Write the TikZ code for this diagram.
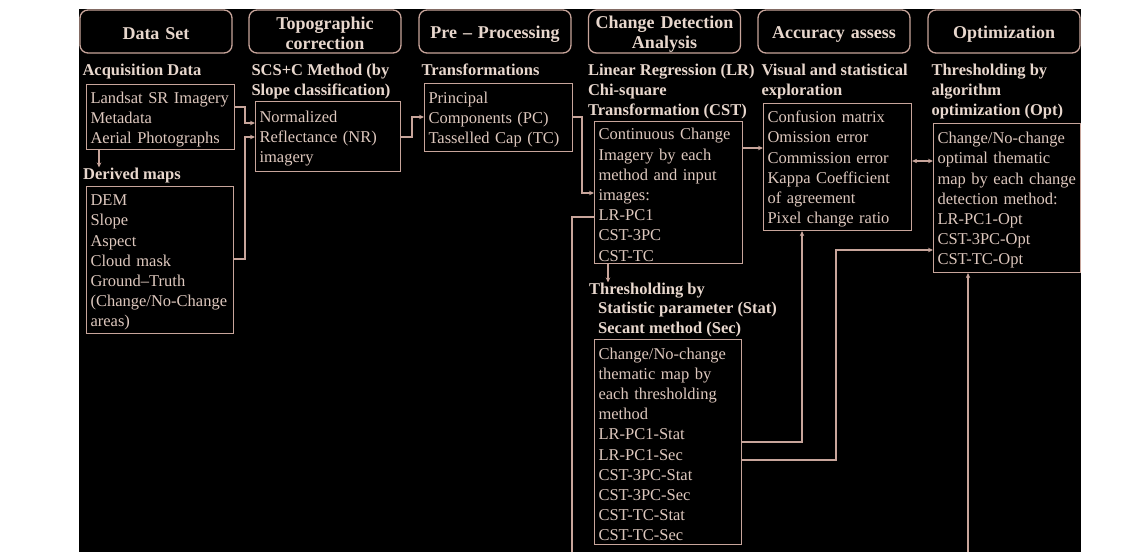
\documentclass[tikz,border=0pt]{standalone}
\usepackage{fontspec}
\setmainfont{Liberation Serif}
\usetikzlibrary{arrows.meta,positioning}
\definecolor{flowline}{RGB}{200,165,155}
\definecolor{flowtext}{RGB}{222,200,190}
\definecolor{flowhead}{RGB}{232,215,205}

\begin{document}
\begin{tikzpicture}[x=1pt, y=-1pt,
    stage/.style={draw=flowline, line width=1.3pt, rounded corners=8pt, minimum width=152pt, minimum height=43pt, text width=146pt, align=center, inner sep=0pt, text=flowhead, font=\fontsize{18}{20}\selectfont\bfseries, execute at begin node={\rule{0pt}{17pt}}},
    topic/.style={inner sep=0pt, align=left, text=flowhead, font=\fontsize{16.5}{19.7}\selectfont\bfseries},
    panel/.style={draw=flowline, line width=1.1pt, anchor=north west, align=left, inner xsep=4pt, inner ysep=0pt, text=flowtext, font=\fontsize{16.5}{20.2}\selectfont, execute at begin node={\rule{0pt}{16pt}}},
    link/.style={draw=flowline, line width=1.1pt},
    >={Stealth[length=5pt,width=4.5pt]}
]
\useasboundingbox (0,0) rectangle (1143,552);
\fill[black] (79,9) rectangle (1081,552);

% stage headers
\node[stage] (hdata) at (156,31.5) {Data Set};
\node[stage] (htopo) at (325,31.5) {Topographic\\correction};
\node[stage] (hpre) at (495,31.5) {Pre -- Processing};
\node[stage] (hcd) at (664.5,31.5) {Change Detection\\Analysis};
\node[stage] (hacc) at (834,31.5) {Accuracy assess};
\node[stage] (hopt) at (1004,31.5) {Optimization};

% topic labels
\node[topic, below right=10.5pt and 3pt of hdata.south west] (ldata) {Acquisition Data};
\node[topic, below right=10.5pt and 3pt of htopo.south west] (ltopo) {SCS+C Method (by\\Slope classification)};
\node[topic, below right=10.5pt and 3pt of hpre.south west] (lpre) {Transformations};
\node[topic, below right=10.5pt and 0pt of hcd.south west] (lcd) {Linear Regression (LR)\\Chi-square\\Transformation (CST)};
\node[topic, below right=10.5pt and 4pt of hacc.south west] (lacc) {Visual and statistical\\exploration};
\node[topic, below right=10.5pt and 4pt of hopt.south west] (lopt) {Thresholding by\\algorithm\\optimization (Opt)};
\node[topic, anchor=north west] (lderived) at (83,167.5) {Derived maps};
\node[topic, anchor=north west] (lthresh) at (589,282.5) {Thresholding by\\\hspace*{9pt}Statistic parameter (Stat)\\\hspace*{9pt}Secant method (Sec)};

% content panels
\node[panel, text width=140pt, minimum height=65pt] (acq) at (86,84) {Landsat SR Imagery\\Metadata\\Aerial Photographs};
\node[panel, text width=139pt, minimum height=147pt] (derived) at (86,186) {DEM\\Slope\\Aspect\\Cloud mask\\Ground--Truth\\(Change/No-Change\\areas)};
\node[panel, text width=137pt, minimum height=70pt] (nr) at (255,101) {Normalized\\Reflectance (NR)\\imagery};
\node[panel, text width=140pt, minimum height=68pt] (trans) at (424,83) {Principal\\Components (PC)\\Tasselled Cap (TC)};
\node[panel, text width=140pt, minimum height=142pt] (cont) at (594,121) {Continuous Change\\Imagery by each\\method and input\\images:\\LR-PC1\\CST-3PC\\CST-TC};
\node[panel, text width=140pt, minimum height=127pt] (acc) at (763,103) {Confusion matrix\\Omission error\\Commission error\\Kappa Coefficient\\of agreement\\Pixel change ratio};
\node[panel, text width=139pt, minimum height=149pt] (opt) at (933,123) {Change/No-change\\optimal thematic\\map by each change\\detection method:\\LR-PC1-Opt\\CST-3PC-Opt\\CST-TC-Opt};
\node[panel, text width=139pt, minimum height=205pt] (thr) at (594,339) {Change/No-change\\thematic map by\\each thresholding\\method\\LR-PC1-Stat\\LR-PC1-Sec\\CST-3PC-Stat\\CST-3PC-Sec\\CST-TC-Stat\\CST-TC-Sec};

\coordinate (outL) at (572,552);
\coordinate (outR) at (968,552);

% connectors
\draw[link, ->] (acq.south -| 99,0) -- (lderived.north -| 99,0);
\draw[link, ->] (acq.east |- 0,107) -- (245,107) -- (245,123) -- (nr.west |- 0,123);
\draw[link, ->] (derived.east |- 0,259) -- (245,259) -- (245,137) -- (nr.west |- 0,137);
\draw[link, ->] (nr.east |- 0,137) -- (412,137) -- (412,117) -- (trans.west |- 0,117);
\draw[link, ->] (trans.east |- 0,117) -- (582,117) -- (582,193) -- (cont.west |- 0,193);
\draw[link, ->] (cont.east |- 0,148) -- (acc.west |- 0,148);
\draw[link, <->] (acc.east |- 0,161) -- (opt.west |- 0,161);
\draw[link, ->] (cont.south -| 608,0) -- (lthresh.north -| 608,0);
\draw[link] (cont.west |- 0,217) -| (outL);
\draw[link, ->] (thr.east |- 0,442) -| (acc.south -| 802,0);
\draw[link, ->] (thr.east |- 0,460) -- (836,460) |- (opt.west |- 0,250);
\draw[link, ->] (outR) -- (opt.south -| outR);
\end{tikzpicture}
\end{document}
